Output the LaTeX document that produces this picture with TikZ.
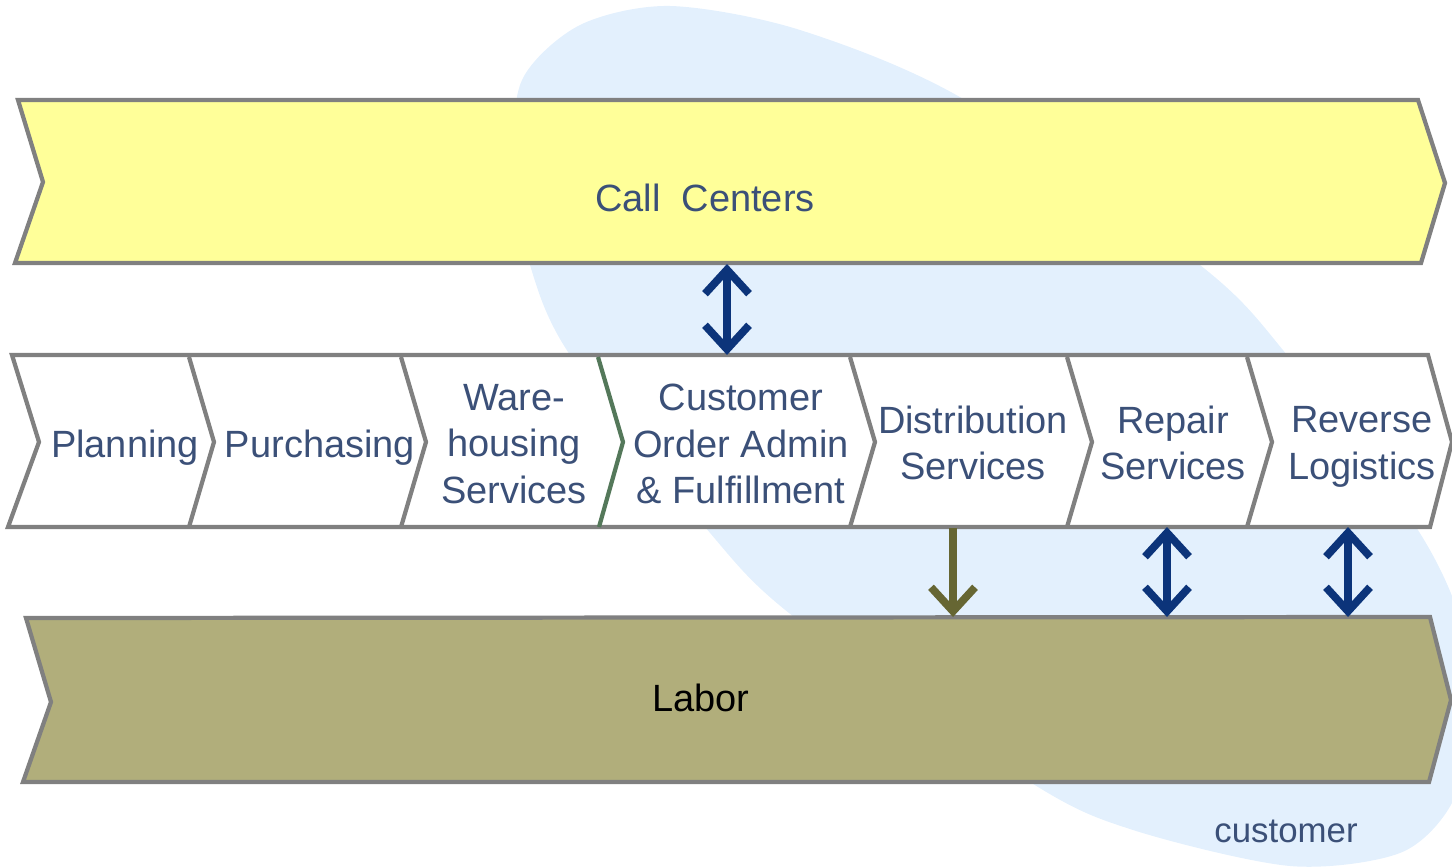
\documentclass[tikz,border=0pt]{standalone}
\usepackage{fontspec}
\setmainfont{Liberation Sans}
\usepackage{tikz}
\usetikzlibrary{arrows.meta}

\definecolor{blobblue}{RGB}{227,240,253}
\definecolor{callyellow}{RGB}{255,255,153}
\definecolor{laborolive}{RGB}{177,174,123}
\definecolor{bandgrey}{RGB}{128,128,128}
\definecolor{divgreen}{RGB}{84,120,90}
\definecolor{textblue}{RGB}{59,80,120}
\definecolor{arrowblue}{RGB}{12,52,122}
\definecolor{arrowolive}{RGB}{102,102,51}

\begin{document}
\begin{tikzpicture}[x=0.01cm,y=-0.01cm,
  band/.style={draw=bandgrey,line width=1.2pt},
  lbl/.style={text=textblue,align=center,font=\fontsize{10.8}{13.2}\selectfont},
  barb/.tip={Straight Barb[length=2.4mm,width=4.4mm]},
  updown/.style={draw=arrowblue,line width=2.2pt,barb-barb},
  down/.style={draw=arrowolive,line width=2.2pt,-barb}]
\useasboundingbox (0,0) rectangle (1452,867);

% customer area in the background
\begin{scope}
\clip (0,0) rectangle (1452,867);
\fill[blobblue] plot[smooth cycle] coordinates {(670,6) (800,30) (965,100)
  (1200,265) (1287,355) (1416,527) (1462,625) (1472,720) (1452,803)
  (1400,853) (1290,866) (1133,830) (1030,782) (794,617) (705,527)
  (570,355) (530,265) (513,170) (522,80) (580,25)};
\end{scope}

% call centers band
\draw[band,fill=callyellow] (18,100)--(1418,100)--(1445,183)--(1421,263)
  --(15,263)--(43,182)--cycle;
\node[lbl] (call) at (705,198) {Call\ \ Centers};

% value chain
\draw[band,fill=white] (12,355)--(1428,355)--(1452,442)--(1430,527)
  --(8,527)--(39,442)--cycle;
\foreach \x in {189,401,850,1067,1247}
  \draw[band] (\x,357)--(\x+25,442)--(\x,527);
\draw[band,draw=divgreen] (598,357)--(623,442)--(599,527);

\node[lbl] (plan)  at (125,448) {Planning};
\node[lbl] (purch) at (320,448) {Purchasing};
\node[lbl] (ware)  at (514,444) {Ware-\\housing\\Services};
\node[lbl] (cust)  at (741,444) {Customer\\Order Admin\\\& Fulfillment};
\node[lbl] (dist)  at (973,443) {Distribution\\Services};
\node[lbl] (rep)   at (1173,443) {Repair\\Services};
\node[lbl] (rev)   at (1362,447) {Reverse\\Logistics};

% labor band
\draw[band,fill=laborolive] (26,618)--(1430,617)--(1451,700)--(1429,782)
  --(23,782)--(51,702)--cycle;
\node[font=\fontsize{10.8}{13.2}\selectfont] (labor) at (701,698) {Labor};

\node[text=textblue,font=\fontsize{9.9}{11}\selectfont] (custlbl) at (1286,831) {customer};

% links between the rows
\coordinate (callB) at (727,264);
\coordinate (custT) at (727,355);
\coordinate (distB) at (953,528);
\coordinate (labD)  at (953,617);
\coordinate (repB)  at (1167,527);
\coordinate (labR)  at (1167,617);
\coordinate (revB)  at (1348,527);
\coordinate (labV)  at (1348,617);

\draw[updown] (callB)--(custT);
\draw[down] (distB)--(labD);
\draw[updown] (repB)--(labR);
\draw[updown] (revB)--(labV);
\end{tikzpicture}
\end{document}
